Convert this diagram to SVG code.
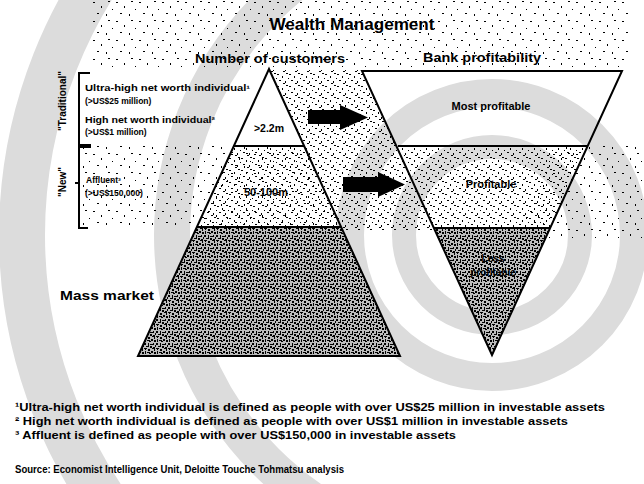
<svg xmlns="http://www.w3.org/2000/svg" width="644" height="484" viewBox="0 0 644 484">
<style>
.t{font-family:"Liberation Sans",Arial,sans-serif;font-weight:bold;fill:#000}
.ln{stroke:#000;stroke-width:2;fill:none}
.wm{fill:none;stroke:#dcdcdc}
</style>
<defs>
<pattern id="sp" width="23" height="19" patternUnits="userSpaceOnUse">
<rect x="1" y="2" width="2" height="1"/><rect x="9" y="6" width="1" height="2"/><rect x="16" y="1" width="2" height="1"/><rect x="5" y="13" width="2" height="1"/><rect x="14" y="14" width="1" height="2"/><rect x="20" y="9" width="1" height="1"/>
</pattern>
<pattern id="lt" width="12" height="12" patternUnits="userSpaceOnUse">
<rect x="1" y="2" width="2" height="1"/><rect x="6" y="4" width="1" height="2"/><rect x="10" y="1" width="2" height="1"/><rect x="3" y="8" width="2" height="1"/><rect x="9" y="9" width="1" height="2"/><rect x="0" y="6" width="1" height="1"/><rect x="7" y="11" width="2" height="1"/>
</pattern>
<pattern id="dk" width="12" height="12" patternUnits="userSpaceOnUse">
<rect width="12" height="12" fill="#bdbdbd"/>
<g fill="#000"><rect x="0" y="0" width="3" height="1"/><rect x="4" y="1" width="2" height="2"/><rect x="8" y="0" width="3" height="1"/><rect x="1" y="3" width="1" height="3"/><rect x="3" y="4" width="3" height="1"/><rect x="7" y="3" width="2" height="2"/><rect x="10" y="4" width="2" height="2"/><rect x="0" y="7" width="2" height="2"/><rect x="4" y="7" width="1" height="3"/><rect x="6" y="8" width="3" height="1"/><rect x="9" y="7" width="1" height="2"/><rect x="11" y="9" width="1" height="2"/><rect x="2" y="10" width="3" height="1"/><rect x="6" y="10" width="2" height="2"/><rect x="9" y="11" width="2" height="1"/><rect x="5" y="5" width="2" height="1"/><rect x="1" y="1" width="1" height="1"/><rect x="10" y="1" width="1" height="2"/></g>
</pattern>
</defs>
<rect width="644" height="484" fill="#fff"/>
<g id="watermark">
<circle class="wm" cx="492" cy="235" r="88" stroke-width="24"/>
<circle class="wm" cx="492" cy="235" r="142" stroke-width="28"/>
<circle class="wm" cx="492" cy="235" r="320" stroke-width="36"/>
<circle class="wm" cx="492" cy="235" r="470" stroke-width="46"/>
</g>
<g id="speckle">
<rect x="90" y="0" width="540" height="68" fill="url(#sp)"/>
<polygon points="270,70 361,70 435,230 343,230" fill="url(#lt)"/>
<polygon points="80,146 304,146 341,227 80,227" fill="url(#sp)"/>
<polygon points="555,146 644,146 644,240 517,240" fill="url(#sp)"/>
</g>
<text class="t" x="352" y="30" font-size="16" text-anchor="middle" textLength="165" lengthAdjust="spacingAndGlyphs">Wealth Management</text>
<g id="left-pyramid">
<text class="t" x="270" y="63" font-size="12.5" text-anchor="middle" textLength="150" lengthAdjust="spacingAndGlyphs">Number of customers</text>
<polygon points="233,146 304,146 341,227 197,227" fill="url(#lt)"/>
<polygon points="197,227 341,227 400,356 138,356" fill="url(#dk)"/>
<polygon class="ln" points="269,69 400,356 138,356"/>
<line class="ln" x1="233" y1="146" x2="304" y2="146"/>
<line class="ln" x1="197" y1="227" x2="341" y2="227"/>
<text class="t" x="269" y="132" font-size="10.5" text-anchor="middle">&gt;2.2m</text>
<text class="t" x="266" y="196" font-size="11" text-anchor="middle">50-100m</text>
</g>
<g id="right-pyramid">
<text class="t" x="482" y="62" font-size="12.5" text-anchor="middle" textLength="118" lengthAdjust="spacingAndGlyphs">Bank profitability</text>
<polygon points="400,146 588,146 550,228 434,228" fill="url(#lt)"/>
<polygon points="434,228 550,228 492,355" fill="url(#dk)"/>
<polygon class="ln" points="362,71 622,71 492,355"/>
<line class="ln" x1="398" y1="146" x2="588" y2="146"/>
<line class="ln" x1="434" y1="228" x2="550" y2="228"/>
<text class="t" x="491" y="110" font-size="11" text-anchor="middle">Most profitable</text>
<text class="t" x="491" y="188" font-size="11" text-anchor="middle">Profitable</text>
<text class="t" x="493" y="262" font-size="10" text-anchor="middle">Less</text>
<text class="t" x="493" y="276" font-size="10" text-anchor="middle">profitable</text>
</g>
<g id="connectors">
<polygon points="308,110 340,110 340,105 368,117.5 340,130 340,124 308,124" fill="#000"/>
<polygon points="343,177 378,177 378,172 405,184.5 378,197 378,192 343,192" fill="#000"/>
</g>
<g id="segments">
<path class="ln" d="M90,73 H79 V228 H88"/>
<line x1="79" y1="146" x2="91" y2="146" stroke="#000" stroke-width="4"/>
<line x1="75" y1="183" x2="79" y2="183" stroke="#000" stroke-width="2"/>
<text class="t" font-size="10" text-anchor="middle" transform="translate(66,101) rotate(-90)">"Traditional"</text>
<text class="t" font-size="10" text-anchor="middle" transform="translate(66,182) rotate(-90)">"New"</text>
<text class="t" x="85" y="91" font-size="8.5" textLength="165" lengthAdjust="spacingAndGlyphs">Ultra-high net worth individual¹</text>
<text class="t" x="85" y="104" font-size="8.5">(&gt;US$25 million)</text>
<text class="t" x="85" y="123" font-size="8.5" textLength="130" lengthAdjust="spacingAndGlyphs">High net worth individual²</text>
<text class="t" x="85" y="135" font-size="8.5">(&gt;US$1 million)</text>
<text class="t" x="86" y="183" font-size="8.5">Affluent³</text>
<text class="t" x="85" y="196" font-size="8.5">(&gt;US$150,000)</text>
<text class="t" x="107" y="300" font-size="12" text-anchor="middle" textLength="94" lengthAdjust="spacingAndGlyphs">Mass market</text>
</g>
<g id="notes">
<text class="t" x="15" y="411" font-size="10.5" textLength="590" lengthAdjust="spacingAndGlyphs">¹Ultra-high net worth individual is defined as people with over US$25 million in investable assets</text>
<text class="t" x="15" y="425" font-size="10.5" textLength="553" lengthAdjust="spacingAndGlyphs">² High net worth individual is defined as people with over US$1 million in investable assets</text>
<text class="t" x="15" y="439" font-size="10.5" textLength="441" lengthAdjust="spacingAndGlyphs">³ Affluent is defined as people with over US$150,000 in investable assets</text>
<text class="t" x="15" y="473" font-size="10.5" textLength="329" lengthAdjust="spacingAndGlyphs">Source: Economist Intelligence Unit, Deloitte Touche Tohmatsu analysis</text>
</g>
</svg>
